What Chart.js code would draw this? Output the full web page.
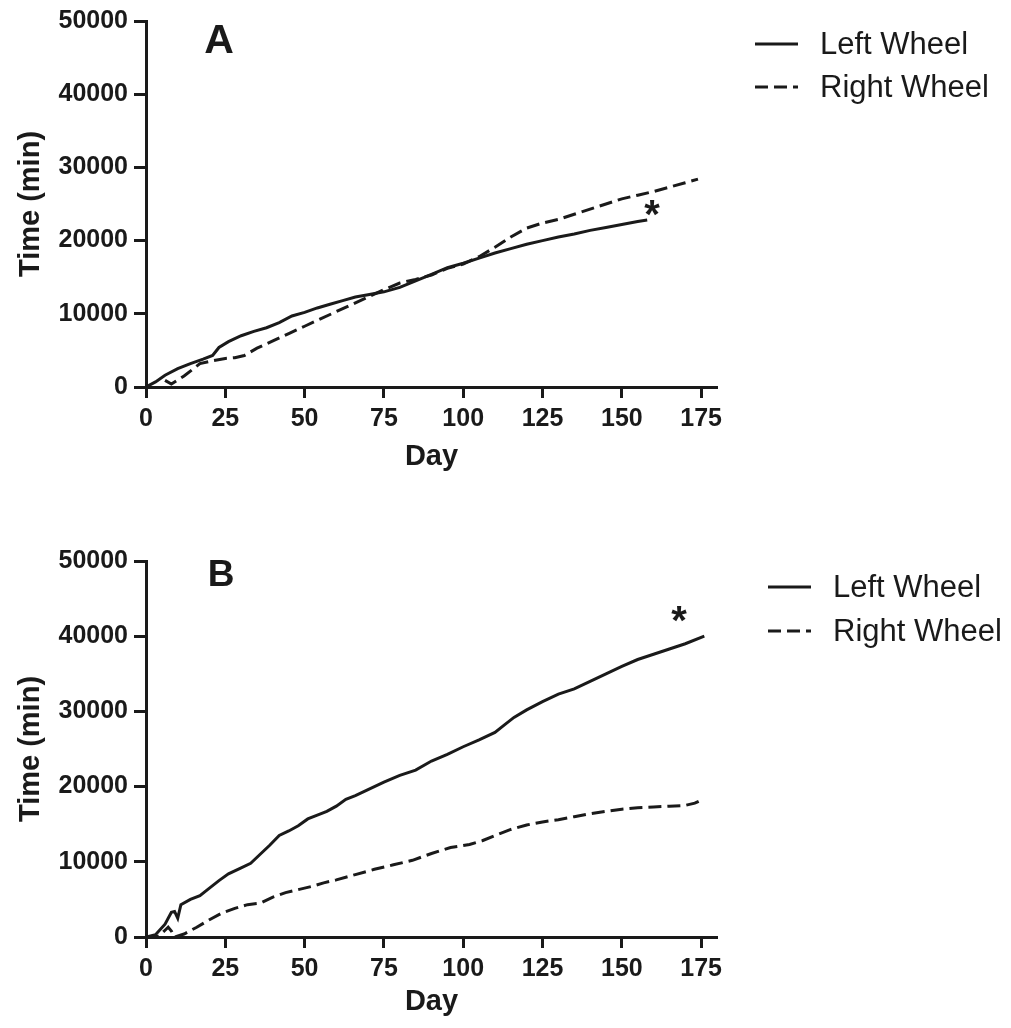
<!DOCTYPE html>
<html>
<head>
<meta charset="utf-8">
<script src="https://cdn.jsdelivr.net/npm/chart.js@4.4.1/dist/chart.umd.min.js"></script>
<style>
  html, body { margin: 0; padding: 0; background: #fff; }
  #wrap { position: relative; width: 1011px; height: 1028px; }
  canvas { position: absolute; left: 0; }
  #chartA { top: 0; }
  #chartB { top: 500px; }
</style>
</head>
<body>
<div id="wrap">
  <canvas id="chartA" width="1011" height="500"></canvas>
  <canvas id="chartB" width="1011" height="528"></canvas>
</div>
<script>
// tick labels
const xTicks = [0, 25, 50, 75, 100, 125, 150, 175];
const yTicks = [0, 10000, 20000, 30000, 40000, 50000];
const seriesNames = ['Left Wheel', 'Right Wheel'];

// Panel A - cumulative time (min) per day
const daysLeftA  = [0, 3, 6, 10, 14, 18, 21, 23, 26, 30, 34, 38, 42, 46, 50, 54, 58, 62, 66, 70, 75, 80, 85, 90, 95, 100, 105, 110, 115, 120, 125, 130, 135, 140, 145, 150, 155, 158];
const leftA      = [0, 700, 1600, 2500, 3200, 3800, 4300, 5400, 6200, 7000, 7600, 8100, 8800, 9700, 10200, 10800, 11300, 11800, 12300, 12600, 13000, 13600, 14500, 15400, 16300, 16900, 17600, 18300, 18900, 19500, 20000, 20500, 20900, 21400, 21800, 22200, 22600, 22800];
const daysRightA = [6, 8, 12, 17, 21, 25, 28, 31, 35, 40, 45, 50, 55, 60, 65, 70, 75, 80, 85, 90, 95, 100, 105, 110, 115, 120, 125, 130, 135, 140, 145, 150, 155, 160, 165, 170, 174];
const rightA     = [900, 400, 1500, 3200, 3600, 3900, 4000, 4300, 5300, 6300, 7300, 8300, 9300, 10300, 11300, 12300, 13300, 14200, 14700, 15300, 16200, 16800, 17800, 19100, 20500, 21700, 22400, 22900, 23600, 24300, 25000, 25700, 26200, 26700, 27300, 27900, 28400];

// Panel B
const daysLeftB  = [0, 3, 6, 8, 9, 10, 11, 14, 17, 20, 23, 26, 30, 33, 36, 39, 42, 45, 48, 51, 54, 57, 60, 63, 66, 70, 75, 80, 85, 90, 95, 100, 105, 110, 113, 116, 120, 125, 130, 135, 140, 145, 150, 155, 160, 165, 170, 176];
const leftB      = [0, 300, 1700, 3300, 3400, 2500, 4300, 5000, 5500, 6500, 7500, 8400, 9200, 9800, 11000, 12200, 13500, 14100, 14800, 15700, 16200, 16700, 17400, 18300, 18800, 19600, 20600, 21500, 22200, 23400, 24300, 25300, 26200, 27200, 28200, 29200, 30200, 31300, 32300, 33000, 34000, 35000, 36000, 36900, 37600, 38300, 39000, 40000];
const daysRightB = [0, 4, 6, 7, 8, 9, 12, 16, 20, 24, 28, 32, 36, 40, 44, 48, 52, 56, 60, 66, 72, 78, 84, 90, 96, 102, 106, 110, 115, 120, 125, 130, 135, 140, 145, 150, 155, 160, 165, 170, 173, 175];
const rightB     = [0, 100, 900, 1300, 800, 0, 400, 1300, 2300, 3200, 3800, 4300, 4500, 5300, 5900, 6300, 6700, 7200, 7600, 8300, 9000, 9600, 10200, 11100, 11900, 12300, 12800, 13500, 14300, 14900, 15300, 15600, 16000, 16400, 16700, 17000, 17200, 17300, 17400, 17500, 17800, 18200];

const INK = '#1a1a1a';
const FONT = '"Liberation Sans", Arial, sans-serif';
const DASH = [13, 6];

const toPts = (xs, ys) => xs.map((x, i) => ({ x, y: ys[i] }));

// panel letter, asterisk and legend, drawn on top of the chart
const extrasPlugin = {
  id: 'extras',
  afterDraw(chart, args, o) {
    const { ctx, scales } = chart;
    ctx.save();
    ctx.fillStyle = INK;
    // panel letter
    ctx.font = `bold ${o.letterSize}px ${FONT}`;
    ctx.textAlign = 'center';
    ctx.textBaseline = 'middle';
    ctx.fillText(o.letter, o.letterX, o.letterY);
    // asterisk, anchored at data coords
    ctx.font = `bold 40px ${FONT}`;
    ctx.textBaseline = 'alphabetic';
    const sx = scales.x.getPixelForValue(o.star[0]);
    const sy = scales.y.getPixelForValue(o.star[1]);
    ctx.fillText('*', sx, sy + 23);
    // legend
    ctx.strokeStyle = INK;
    ctx.lineWidth = 3;
    ctx.textAlign = 'left';
    ctx.textBaseline = 'middle';
    ctx.font = `31px ${FONT}`;
    chart.data.datasets.forEach((ds, i) => {
      const y = o.legY[i];
      ctx.setLineDash(ds.borderDash || []);
      ctx.beginPath();
      ctx.moveTo(o.legX, y);
      ctx.lineTo(o.legX + 43, y);
      ctx.stroke();
      ctx.setLineDash([]);
      ctx.fillText(ds.label, o.legX + 65, y + 1);
    });
    ctx.restore();
  }
};

function makeChart(id, left, right, axisH, topPad, extras) {
  return new Chart(document.getElementById(id), {
    type: 'line',
    data: {
      datasets: [
        { label: seriesNames[0], data: left, borderColor: INK, borderWidth: 3, pointRadius: 0, tension: 0, fill: false },
        { label: seriesNames[1], data: right, borderColor: INK, borderWidth: 3, borderDash: DASH, pointRadius: 0, tension: 0, fill: false }
      ]
    },
    options: {
      responsive: false,
      animation: false,
      layout: { padding: { top: topPad, right: 294, left: 0, bottom: 0 } },
      plugins: { legend: { display: false }, tooltip: { enabled: false }, extras },
      scales: {
        x: {
          type: 'linear', min: 0, max: 180,
          afterBuildTicks: s => { s.ticks = xTicks.map(v => ({ value: v })); },
          afterFit: s => { s.height = axisH; },
          border: { color: INK, width: 3 },
          grid: { drawOnChartArea: false, drawTicks: true, tickLength: 11, tickWidth: 3, tickColor: INK },
          ticks: { color: INK, padding: 6, callback: v => String(v), font: { family: FONT, size: 25, weight: 'bold' } },
          title: { display: true, text: 'Day', color: INK, padding: { top: 0, bottom: extras.titlePad }, font: { family: FONT, size: 29, weight: 'bold' } }
        },
        y: {
          min: 0, max: 50000,
          afterBuildTicks: s => { s.ticks = yTicks.map(v => ({ value: v })); },
          afterFit: s => { s.width = 146; },
          border: { color: INK, width: 3 },
          grid: { drawOnChartArea: false, drawTicks: true, tickLength: 12, tickWidth: 3, tickColor: INK },
          ticks: { color: INK, padding: 6, callback: v => String(v), font: { family: FONT, size: 25, weight: 'bold' } },
          title: { display: true, text: 'Time (min)', color: INK, padding: { top: 14, bottom: 0 }, font: { family: FONT, size: 29, weight: 'bold' } }
        }
      }
    },
    plugins: [extrasPlugin]
  });
}

makeChart('chartA', toPts(daysLeftA, leftA), toPts(daysRightA, rightA), 113, 20,
  { letter: 'A', letterSize: 41, letterX: 219, letterY: 42, star: [159.5, 24900], legX: 755, legY: [44, 87], titlePad: 26 });
makeChart('chartB', toPts(daysLeftB, leftB), toPts(daysRightB, rightB), 91, 61,
  { letter: 'B', letterSize: 37, letterX: 221, letterY: 76, star: [168, 43400], legX: 768, legY: [87, 131], titlePad: 9 });
</script>
</body>
</html>
